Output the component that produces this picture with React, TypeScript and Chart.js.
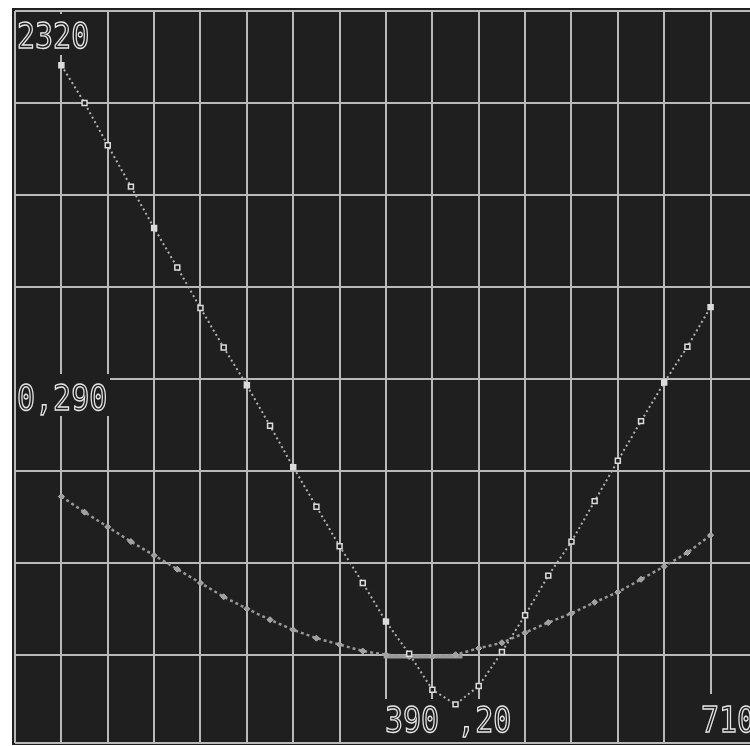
import { useEffect, useRef } from "react";
import { Chart, registerables } from "chart.js";

Chart.register(...registerables);

// sample positions in grid units (half-division steps)
const X_POS = [1, 1.5, 2, 2.5, 3, 3.5, 4, 4.5, 5, 5.5, 6, 6.5, 7, 7.5, 8, 8.5, 9, 9.5, 10, 10.5, 11, 11.5, 12, 12.5, 13, 13.5, 14, 14.5, 15];

// steep V trace (open squares)
const SERIES_A = [7.41, 7.0, 6.54, 6.09, 5.64, 5.21, 4.77, 4.34, 3.93, 3.49, 3.04, 2.61, 2.18, 1.78, 1.36, 1.01, 0.62, 0.46, 0.66, 1.03, 1.43, 1.86, 2.23, 2.67, 3.11, 3.54, 3.96, 4.35, 4.78];

// shallow trace (small markers)
const SERIES_B = [2.72, 2.55, 2.39, 2.23, 2.08, 1.93, 1.78, 1.63, 1.5, 1.38, 1.27, 1.18, 1.11, 1.04, 1.0, 0.98, 0.98, 1.0, 1.07, 1.13, 1.24, 1.35, 1.45, 1.57, 1.68, 1.82, 1.96, 2.11, 2.3];

// squares drawn filled on trace A
const FILLED_X = [1, 3, 5, 6, 8, 14, 15];

// thick reference marker
const MARK_X = [7.95, 9.65];
const MARK_Y = [0.98, 0.98];

// grid divisions
const X_GRID = [0, 1, 2, 3, 4, 5, 6, 7, 8, 9, 10, 11, 12, 13, 14, 15];
const Y_GRID = [0.04, 1, 2, 3, 4, 5, 6, 7, 8];

// readout texts
const LABEL_TOP = "2320";
const LABEL_MID = "0,290";
const LABEL_BOTTOM = "390 ,20";
const LABEL_RIGHT = "710";

const BG = "#1f1f1f";

export default function App() {
  const ref = useRef<HTMLCanvasElement | null>(null);

  useEffect(() => {
    const canvas = ref.current;
    if (!canvas) return;

    const bgPlugin = {
      id: "scopeBg",
      beforeDraw(chart: any) {
        const { ctx, chartArea } = chart;
        ctx.save();
        ctx.fillStyle = "#ffffff";
        ctx.fillRect(0, 0, chart.width, chart.height);
        ctx.fillStyle = BG;
        ctx.fillRect(chartArea.left - 3, chartArea.top - 3, chart.width, chartArea.bottom - chartArea.top + 5);
        ctx.restore();
      },
      beforeDatasetsDraw(chart: any) {
        const { ctx } = chart;
        ctx.save();
        ctx.fillStyle = BG;
        ctx.fillRect(16, 14, 76, 41);
        ctx.fillRect(16, 374, 94, 42);
        ctx.fillRect(382, 699, 134, 43);
        ctx.fillRect(698, 694, 52, 48);
        ctx.restore();
      },
      afterDatasetsDraw(chart: any) {
        const { ctx } = chart;
        const draw = (t: string, x: number, y: number) => {
          ctx.save();
          ctx.translate(x, y);
          ctx.scale(1, 1.18);
          ctx.font = "30px 'DejaVu Sans Mono'";
          ctx.textBaseline = "alphabetic";
          ctx.lineWidth = 1.2;
          ctx.strokeStyle = "#e6e6e6";
          ctx.strokeText(t, 0, 0);
          ctx.restore();
        };
        draw(LABEL_TOP, 17, 48);
        draw(LABEL_MID, 17, 410);
        draw(LABEL_BOTTOM, 385, 732);
        draw(LABEL_RIGHT, 701, 732);
      },
    };

    const gridStyle = { color: "#b9b9b9", lineWidth: 2, drawTicks: false };

    const chart = new Chart(canvas, {
      type: "line",
      data: {
        datasets: [
          {
            label: "A",
            data: X_POS.map((x, i) => ({ x, y: SERIES_A[i] })),
            borderColor: "#b0b0b0",
            borderWidth: 2,
            borderDash: [2, 3],
            pointStyle: "rect",
            pointRadius: 3.5,
            pointBorderWidth: 1.5,
            pointBorderColor: "#dcdcdc",
            pointBackgroundColor: X_POS.map((x) => (FILLED_X.includes(x) ? "#dcdcdc" : BG)),
            tension: 0,
          },
          {
            label: "B",
            data: X_POS.map((x, i) => ({ x, y: SERIES_B[i] })),
            borderColor: "#979797",
            borderWidth: 2.5,
            borderDash: [3, 3],
            pointStyle: "rectRot",
            pointRadius: 3,
            pointBorderWidth: 1,
            pointBorderColor: "#b0b0b0",
            pointBackgroundColor: "#a0a0a0",
            tension: 0,
          },
          {
            label: "M",
            data: MARK_X.map((x, i) => ({ x, y: MARK_Y[i] })),
            borderColor: "#9a9a9a",
            borderWidth: 4,
            pointRadius: 0,
            tension: 0,
          },
        ],
      },
      options: {
        animation: false,
        responsive: false,
        maintainAspectRatio: false,
        events: [],
        layout: { autoPadding: false, padding: { left: 15, top: 11, right: 0, bottom: 3 } },
        plugins: { legend: { display: false }, tooltip: { enabled: false } },
        scales: {
          x: {
            type: "linear",
            min: 0,
            max: 15.85,
            ticks: { display: false },
            grid: gridStyle,
            border: { display: false },
            afterBuildTicks: (s: any) => {
              s.ticks = X_GRID.map((v) => ({ value: v }));
            },
          },
          y: {
            type: "linear",
            min: 0.04,
            max: 8,
            ticks: { display: false },
            grid: gridStyle,
            border: { display: false },
            afterBuildTicks: (s: any) => {
              s.ticks = Y_GRID.map((v) => ({ value: v }));
            },
          },
        },
      },
      plugins: [bgPlugin],
    } as any);

    return () => chart.destroy();
  }, []);

  return (
    <div style={{ position: "fixed", left: 0, top: 0, width: 750, height: 746, background: "#fff", overflow: "hidden" }}>
      <canvas ref={ref} width={750} height={746} style={{ display: "block", width: 750, height: 746 }} />
    </div>
  );
}
